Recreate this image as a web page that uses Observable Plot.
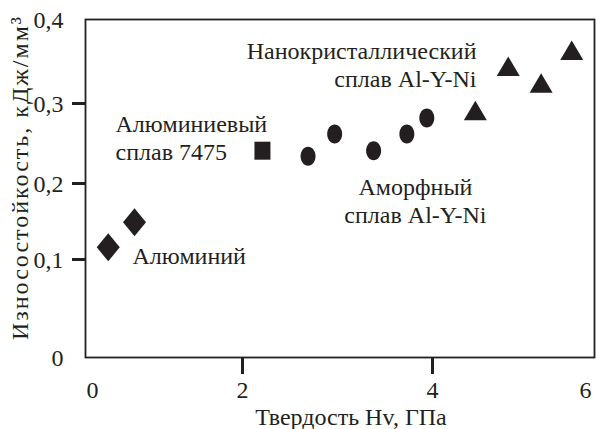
<!DOCTYPE html>
<html>
<head>
<meta charset="utf-8">
<script src="https://cdn.jsdelivr.net/npm/d3@7"></script>
<script src="https://cdn.jsdelivr.net/npm/@observablehq/plot@0.6"></script>
<style>
  html, body { margin: 0; padding: 0; background: #fff; }
  #chart svg { display: block; overflow: visible; }
</style>
</head>
<body>
<div id="chart"></div>
<script>
// Wear resistance vs. hardness of aluminium and Al-Y-Ni alloys
const material = ["al", "al", "al7475",
  "amorphous", "amorphous", "amorphous", "amorphous", "amorphous",
  "nano", "nano", "nano", "nano"];
const hardness = [0.21, 0.56, 2.21, 2.69, 2.97, 3.38, 3.73, 3.94, 4.56, 4.99, 5.42, 5.82];
const wearResistance = [0.116, 0.149, 0.241, 0.234, 0.262, 0.241, 0.262, 0.282, 0.291, 0.344, 0.324, 0.363];

const xTicks = [0, 2, 4, 6];
const xTickLabels = ["0", "2", "4", "6"];
const yTicks = [0, 0.1, 0.2, 0.3, 0.4];
const yTickLabels = ["0", "0,1", "0,2", "0,3", "0,4"];
const groupLabels = ["Алюминий", "Алюминиевый\nсплав 7475", "Аморфный\nсплав Al-Y-Ni", "Нанокристаллический\nсплав Al-Y-Ni"];
const xTitle = "Твердость Hv, ГПа";
const yTitle = "Износостойкость, кДж/мм³";

const points = hardness.map((h, i) => ({material: material[i], hardness: h, wear: wearResistance[i]}));

const W = 596, H = 429;
const M = {top: 19, right: 2, bottom: 72, left: 85};
const frameW = W - M.left - M.right;
const frameH = H - M.top - M.bottom;

// The printed axes are not evenly graduated: each tick sits at its own
// position along the frame, so values are warped piecewise onto the frame
// before they reach the plot's position scales.
const xWarp = d3.scaleLinear(xTicks, [92, 242, 432, 585]);
const yWarp = d3.scaleLinear(yTicks, [357, 259, 183, 103, 19]);
const xTickPos = xTicks.map(xWarp);
const yTickPos = yTicks.map(yWarp);

// marker shapes
const diamond = {draw(c) { c.moveTo(0, -14); c.lineTo(11.5, 0); c.lineTo(0, 14); c.lineTo(-11.5, 0); c.closePath(); }};
const square = {draw(c) { c.rect(-8, -9, 16, 18); }};
const ellipse = {draw(c) {
  const rx = 7.5, ry = 9.5, k = 0.5523;
  c.moveTo(rx, 0);
  c.bezierCurveTo(rx, ry * k, rx * k, ry, 0, ry);
  c.bezierCurveTo(-rx * k, ry, -rx, ry * k, -rx, 0);
  c.bezierCurveTo(-rx, -ry * k, -rx * k, -ry, 0, -ry);
  c.bezierCurveTo(rx * k, -ry, rx, -ry * k, rx, 0);
  c.closePath();
}};
const triangle = {draw(c) { c.moveTo(0, -10); c.lineTo(11.5, 9.5); c.lineTo(-11.5, 9.5); c.closePath(); }};

const ink = "#231f20";
const font = "'Liberation Serif', 'Times New Roman', serif";
const fs = 24;

const group = (key) => points.filter(d => d.material === key);
const dots = (key, symbol) => Plot.dot(group(key), {
  x: d => xWarp(d.hardness), y: d => yWarp(d.wear), symbol, r: 10, fill: ink, stroke: "none"
});
const label = (text, x, y, options) => Plot.text([text], {
  x: xWarp(x), y: yWarp(y), text: d => d, fill: ink, fontSize: fs, lineHeight: 1.17, ...options
});

const chart = Plot.plot({
  width: W,
  height: H,
  marginLeft: M.left,
  marginRight: M.right,
  marginTop: M.top,
  marginBottom: M.bottom,
  clip: false,
  style: {fontFamily: font, fontSize: fs + "px", color: ink, background: "#fff"},
  x: {type: "linear", domain: [M.left, W - M.right], range: [M.left, W - M.right]},
  y: {type: "linear", domain: [H - M.bottom, M.top], range: [H - M.bottom, M.top]},
  marks: [
    Plot.frame({stroke: ink, strokeWidth: 1.8}),
    // outward tick strokes on the inner graduations (the outer ones meet the frame)
    Plot.ruleX(xTickPos.slice(1, -1), {insetTop: frameH, insetBottom: -17, stroke: ink, strokeWidth: 3, clip: false}),
    Plot.ruleY(yTickPos.slice(1, -1), {insetRight: frameW, insetLeft: -13, stroke: ink, strokeWidth: 3, clip: false}),
    // tick labels
    Plot.axisX({ticks: xTickPos, tickSize: 0, tickPadding: 23, fill: ink, fontSize: fs, label: null,
      tickFormat: d => xTickLabels[xTickPos.indexOf(d)]}),
    Plot.axisY({ticks: yTickPos, tickSize: 0, tickPadding: 22, dy: 1, fill: ink, fontSize: fs, label: null,
      tickFormat: d => yTickLabels[yTickPos.indexOf(d)]}),
    // axis titles
    Plot.text([xTitle], {frameAnchor: "bottom", textAnchor: "middle", lineAnchor: "middle", dx: 11, dy: 60, text: d => d, fill: ink, fontSize: fs}),
    Plot.text([yTitle], {frameAnchor: "left", textAnchor: "middle", lineAnchor: "middle", rotate: -90, dx: -65, dy: -11, text: d => d, fill: ink, fontSize: fs}),
    // data
    dots("al", diamond),
    dots("al7475", square),
    dots("amorphous", ellipse),
    dots("nano", triangle),
    // group labels
    label(groupLabels[0], 0.533, 0.106, {textAnchor: "start"}),
    label(groupLabels[1], 0.307, 0.258, {textAnchor: "start"}),
    label(groupLabels[2], 3.82, 0.178, {textAnchor: "middle"}),
    label(groupLabels[3], 4.575, 0.347, {textAnchor: "end"})
  ]
});

// the vertical title is set with a little extra tracking
d3.select(chart).selectAll("text").filter(function() { return this.textContent === yTitle; })
  .attr("letter-spacing", "2px");

document.getElementById("chart").appendChild(chart);
</script>
</body>
</html>
